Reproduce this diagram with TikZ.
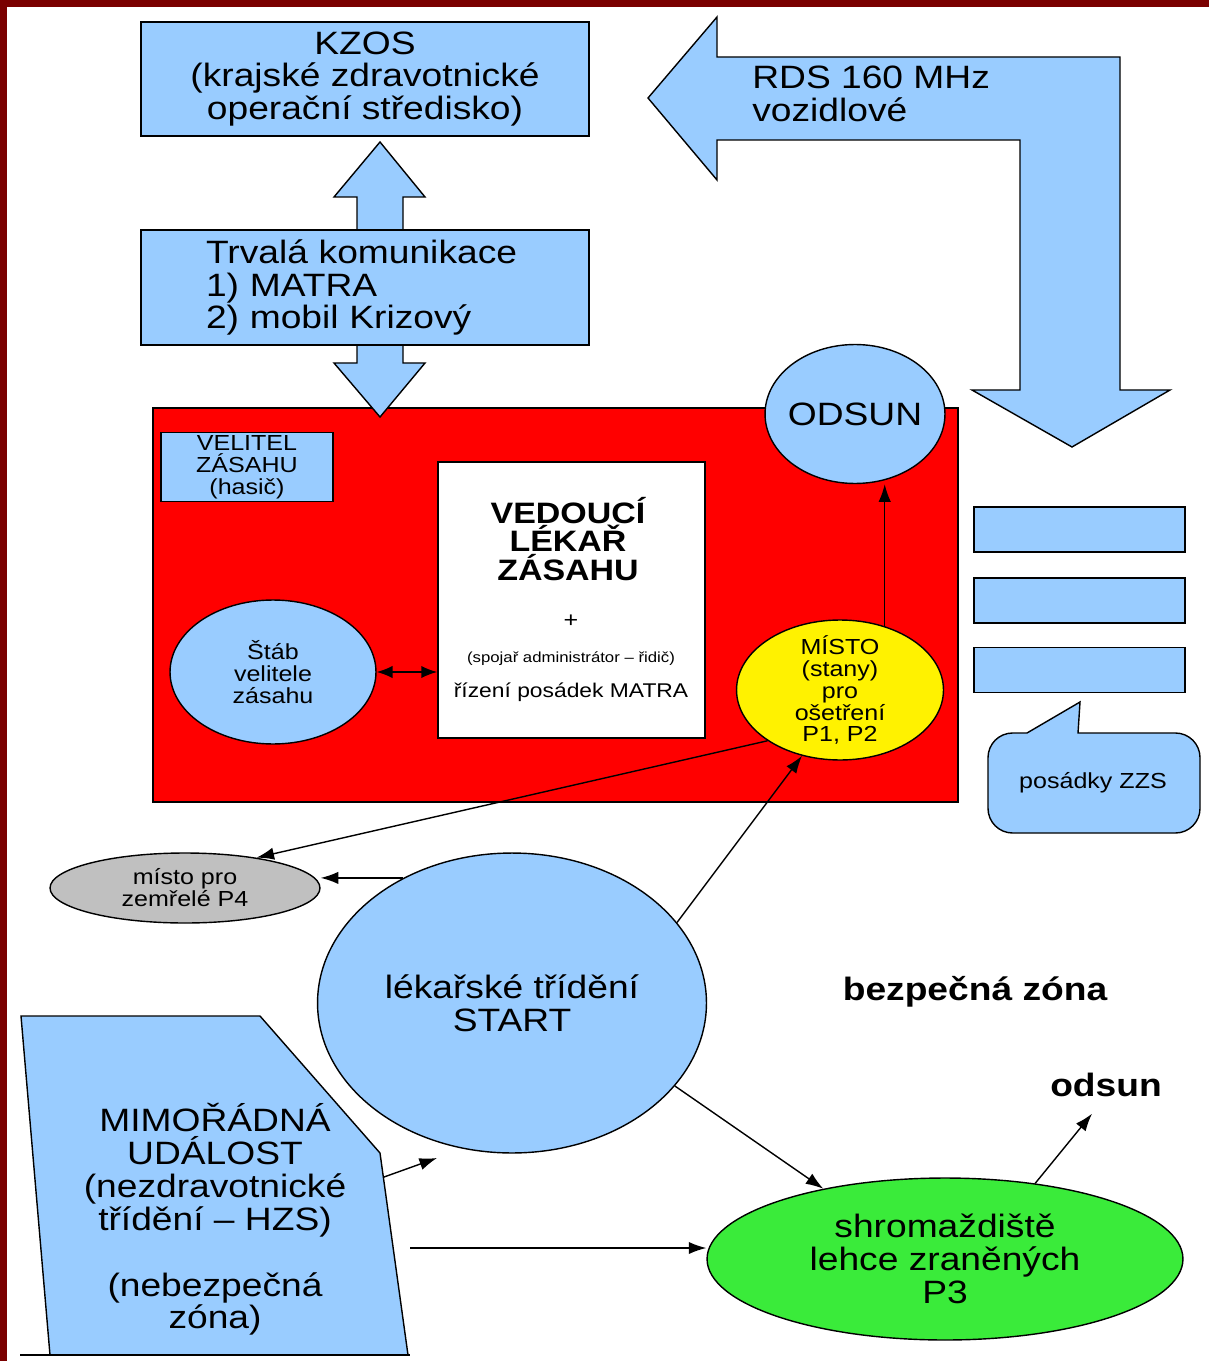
\documentclass[tikz,border=0pt]{standalone}
\usepackage{fontspec}
\setmainfont{Liberation Sans}[FakeStretch=1.15]
\usetikzlibrary{positioning,arrows.meta,calc,shapes.geometric}
\definecolor{lblue}{HTML}{99CCFF}
\definecolor{borderred}{RGB}{122,0,0}
\definecolor{zgreen}{RGB}{58,235,58}
\definecolor{zgray}{HTML}{C0C0C0}
\newcommand{\fbig}{\fontsize{18.4}{18.7}\selectfont}
\newcommand{\fmid}{\fontsize{12.4}{12.5}\selectfont}
\tikzset{
  infobox/.style={rectangle,draw=black,fill=lblue,line width=1pt,align=center,inner sep=0pt,font=\fbig},
  oval/.style={ellipse,draw=black,fill=lblue,line width=0.8pt,align=center,inner sep=0pt,font=\fmid},
  blockarr/.style={draw=black,fill=lblue,line width=0.8pt,line join=miter},
  lbl/.style={inner sep=0pt,align=center},
  ptr/.style={-{Latex[length=10pt,width=7pt]},line width=0.8pt},
  dptr/.style={{Latex[length=9pt,width=7pt]}-{Latex[length=9pt,width=7pt]},line width=0.8pt},
}

\begin{document}
\begin{tikzpicture}[x=0.02cm,y=-0.02cm]
  \useasboundingbox (0,0) rectangle (1209,1361);
  \fill[borderred] (0,0) rectangle (7,1361);
  \fill[borderred] (0,0) rectangle (1209,7);

  % zasah area
  \node[draw=black,fill=red,line width=1pt,minimum width=16.1cm,minimum height=7.88cm,inner sep=0pt] (zasah) at (555.5,605) {};

  % spojeni KZOS
  \filldraw[blockarr] (380,142) -- (425,197) -- (403,197) -- (403,232) -- (357,232) -- (357,197) -- (334,197) -- cycle;
  \filldraw[blockarr] (357,343) -- (357,363) -- (334,363) -- (380,417) -- (425,363) -- (403,363) -- (403,343) -- cycle;
  \node[infobox,minimum width=8.96cm,minimum height=2.28cm] (kzos) at (365,79) {KZOS\\(krajské zdravotnické\\operační středisko)};
  \node[infobox,minimum width=8.96cm,minimum height=2.3cm,text width=6.36cm,align=left] (trvala) at (365,287.5) {Trvalá komunikace\\1) MATRA\\2) mobil Krizový};

  % RDS
  \filldraw[blockarr] (648,98) -- (717,17) -- (717,57) -- (1120,57) -- (1120,390) -- (1170,390) -- (1072,447) -- (972,390) -- (1020,390) -- (1020,140) -- (717,140) -- (717,180) -- cycle;
  \node[lbl,font=\fbig,align=left,anchor=west] (rds) at (752,94) {RDS 160 MHz\\vozidlové};

  \node[oval,font=\fbig,inner xsep=-2pt,minimum width=3.58cm,minimum height=2.78cm] (odsun) at (855,414) {ODSUN};
  \node[infobox,font=\fmid,minimum width=3.44cm,minimum height=1.38cm] (velitel) at (247,467) {VELITEL\\ZÁSAHU\\(hasič)};

  % vedouci lekar
  \node[draw=black,fill=white,line width=1pt,minimum width=5.34cm,minimum height=5.52cm] (vlz) at (571.5,600) {};
  \node[lbl,font=\fontsize{16.8}{16.4}\selectfont\bfseries] (vlzt) at (568,539) {VEDOUCÍ\\LÉKAŘ\\ZÁSAHU};
  \node[lbl,font=\fmid] (plus) at (571,621) {+};
  \node[lbl,font=\fontsize{8.3}{9}\selectfont] (spojar) at (571,659) {(spojař administrátor – řidič)};
  \node[lbl,font=\fontsize{11.3}{12}\selectfont] (rizeni) at (571,692) {řízení posádek MATRA};

  \node[oval,minimum width=4.12cm,minimum height=2.88cm] (stab) at (273,672) {Štáb\\velitele\\zásahu};
  \draw[dptr] (stab.east) -- (stab.east -| vlz.west);

  \node[oval,fill=yellow,inner ysep=-3pt,minimum width=4.14cm,minimum height=2.8cm] (misto) at (840,690) {MÍSTO\\(stany)\\pro\\ošetření\\P1, P2};
  \draw[ptr] (misto.55) -- (misto.55 |- odsun.south);

  % posadky ZZS
  \node[infobox,minimum width=4.22cm,minimum height=0.9cm] (pos1) at (1079.5,529.5) {};
  \node[infobox,minimum width=4.22cm,minimum height=0.9cm,below=0.48cm of pos1] (pos2) {};
  \node[infobox,minimum width=4.22cm,minimum height=0.9cm,below=0.46cm of pos2] (pos3) {};
  \filldraw[blockarr] (1078,733) [rounded corners=14pt] -- (1200,733) -- (1200,833) -- (988,833) -- (988,733) [sharp corners] -- (1027,733) -- (1080,702) -- cycle;
  \node[lbl,font=\fmid] (posadky) at (1093,783) {posádky ZZS};

  \node[oval,fill=zgray,minimum width=5.4cm,minimum height=1.4cm] (zemrele) at (185,888) {místo pro\\zemřelé P4};
  \node[oval,font=\fbig,minimum width=7.78cm,minimum height=6cm] (start) at (512,1003) {lékařské třídění\\START};
  \node[oval,fill=zgreen,font=\fbig,minimum width=9.52cm,minimum height=3.24cm] (shrom) at (945,1259) {shromaždiště\\lehce zraněných\\P3};

  \draw[ptr] (misto.215) -- (zemrele.23);
  \draw[ptr] (start.131) -- (start.131 -| zemrele.east);
  \draw[ptr] (start.26) -- (misto.-120);
  \draw[ptr] (start.-27) -- (shrom.150);

  % mimoradna udalost
  \coordinate (mu1) at (21,1016);
  \coordinate (mu2) at (260,1016);
  \coordinate (mu3) at (380,1153);
  \coordinate (mu4) at (408,1355);
  \coordinate (mu5) at (50,1355);
  \filldraw[blockarr] (mu1) -- (mu2) -- (mu3) -- (mu4) -- (mu5) -- cycle;
  \draw[line width=0.8pt] (20,1355) -- (410,1355);
  \node[lbl,font=\fbig] (mu) at (215,1219.5) {MIMOŘÁDNÁ\\UDÁLOST\\(nezdravotnické\\třídění – HZS)\\[0.66cm](nebezpečná\\zóna)};
  \coordinate (mu-a) at ($(mu3)!0.12!(mu4)$);
  \coordinate (mu-b) at (437,1158);
  \draw[ptr] (mu-a) -- (mu-b);
  \coordinate (mu-c) at (410,1248);
  \draw[ptr] (mu-c) -- (mu-c -| shrom.west);

  \node[lbl,font=\fbig\bfseries] (odsunt) at (1106,1085) {odsun};
  \draw[ptr] (shrom.40) -- ([xshift=-0.28cm,yshift=-0.33cm]odsunt.south);
  \node[lbl,font=\fbig\bfseries] (bzona) at (975,992) {bezpečná zóna};
\end{tikzpicture}
\end{document}
